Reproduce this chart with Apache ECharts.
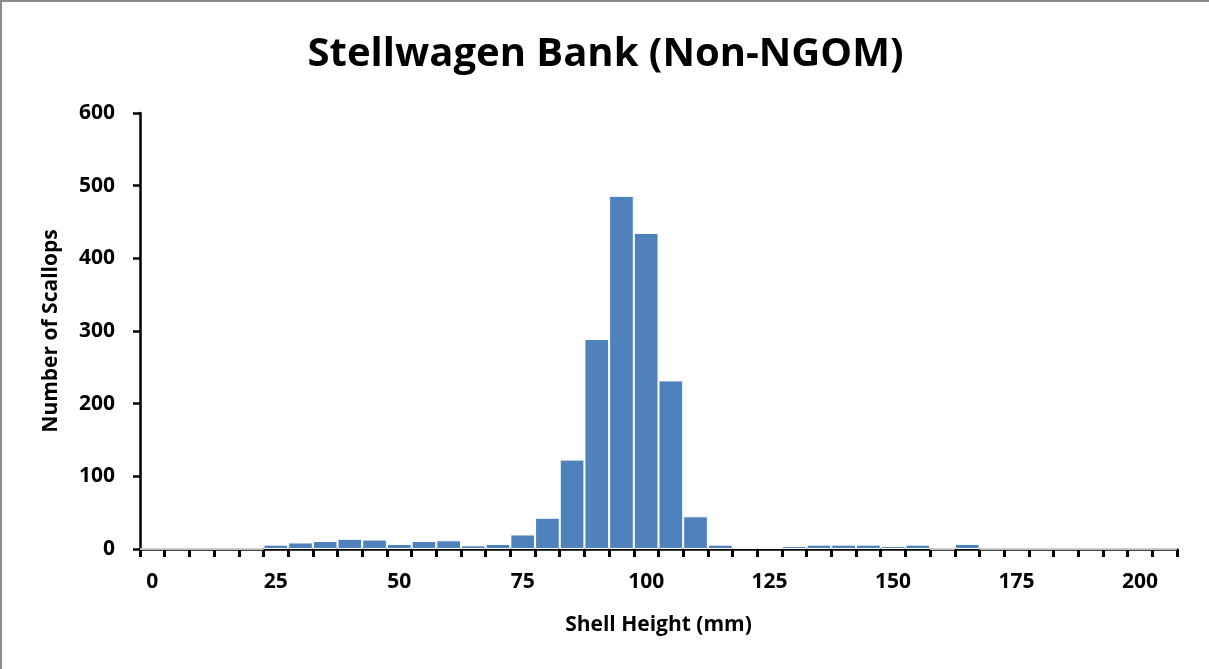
<!DOCTYPE html>
<html lang="en">
<head>
  <meta charset="UTF-8">
  <title>Stellwagen Bank (Non-NGOM)</title>
  <style>
    * {
      margin: 0;
      padding: 0;
    }

    body {
      background-color: #ffffff;
    }

    .box {
      width: 1209px;
      height: 669px;
      box-sizing: border-box;
      border-top: 2px solid #8c8c8c;
      border-left: 2px solid #8c8c8c;
    }
  </style>
</head>
<body>
  <div class="box"></div>

  <script src="https://cdn.jsdelivr.net/npm/echarts@6/dist/echarts.min.js"></script>
  <script>
    // shell height bins (mm), 5 mm wide
    var sizeBins = [0, 5, 10, 15, 20, 25, 30, 35, 40, 45, 50, 55, 60, 65, 70, 75, 80, 85, 90, 95,
      100, 105, 110, 115, 120, 125, 130, 135, 140, 145, 150, 155, 160, 165, 170, 175, 180, 185, 190, 195, 200, 205];
    // number of scallops in each bin
    var scallopCount = [0, 0, 0, 0, 0, 6, 9, 11, 14, 13, 7, 11, 12, 5, 7, 20, 43, 123, 289, 486,
      435, 232, 45, 6, 2, 2, 4, 6, 6, 6, 4, 6, 0, 7, 0, 0, 0, 0, 0, 0, 0, 0];
    var yTicks = [0, 100, 200, 300, 400, 500, 600];

    var font = "'Open Sans', sans-serif";
    var myChart = echarts.init(document.querySelector('.box'));

    var option = {
      animation: false,
      title: {
        text: 'Stellwagen Bank (Non-NGOM)',
        left: 'center',
        top: 28,
        textStyle: {
          fontFamily: font,
          fontSize: 40,
          fontWeight: 'bold',
          color: '#000'
        }
      },
      grid: {
        left: 138,
        right: 32,
        top: 111,
        bottom: 120
      },
      xAxis: {
        type: 'category',
        data: sizeBins,
        name: 'Shell Height (mm)',
        nameLocation: 'middle',
        nameGap: 66,
        nameTextStyle: {
          fontFamily: font,
          fontSize: 21,
          fontWeight: 'bold',
          color: '#000'
        },
        axisLine: { show: true, lineStyle: { color: '#000', width: 2.5 } },
        axisTick: {
          show: true,
          alignWithLabel: false,
          interval: 0,
          length: 8,
          lineStyle: { color: '#000', width: 3 }
        },
        axisLabel: {
          interval: 4,
          margin: 23,
          fontFamily: font,
          fontSize: 21,
          fontWeight: 'bold',
          color: '#000'
        }
      },
      yAxis: {
        type: 'value',
        min: yTicks[0],
        max: yTicks[yTicks.length - 1],
        interval: 100,
        name: 'Number of Scallops',
        nameLocation: 'middle',
        nameGap: 78,
        nameTextStyle: {
          fontFamily: font,
          fontSize: 21,
          fontWeight: 'bold',
          color: '#000'
        },
        axisLine: { show: true, lineStyle: { color: '#000', width: 2.5 } },
        axisTick: { show: true, length: 7, lineStyle: { color: '#000', width: 2.5 } },
        splitLine: { show: false },
        axisLabel: {
          margin: 25,
          fontFamily: font,
          fontSize: 21,
          fontWeight: 'bold',
          color: '#000'
        }
      },
      series: [
        {
          name: 'Scallops',
          type: 'bar',
          data: scallopCount,
          barCategoryGap: '0%',
          itemStyle: {
            color: '#4f81bd',
            borderColor: '#ffffff',
            borderWidth: 1
          }
        }
      ]
    };
    myChart.setOption(option);
  </script>
</body>
</html>
